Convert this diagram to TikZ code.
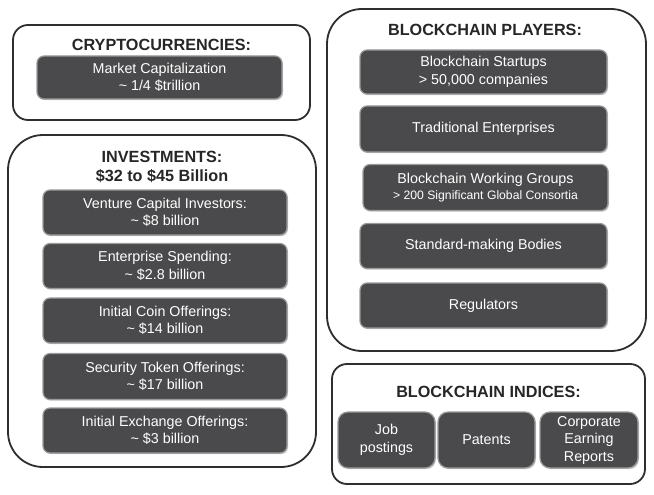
\documentclass[tikz,border=0pt]{standalone}
\usepackage{fontspec}
\setmainfont{Liberation Sans}
\usetikzlibrary{shadows}
\definecolor{boxfill}{HTML}{4A4A4C}
\definecolor{boxedge}{HTML}{9A9A9A}
\definecolor{frameedge}{HTML}{2E2E2E}
\definecolor{titletext}{HTML}{262626}
\tikzset{
  frame/.style={draw=frameedge, line width=1.8pt, fill=white, rounded corners=#1},
  frame/.default=15pt,
  inbox/.style={draw=boxedge, line width=1.2pt, fill=boxfill, rounded corners=7pt,
    text=white, align=center, inner sep=1pt, outer sep=0pt,
    font=\fontsize{14.3}{17.5}\selectfont,
    drop shadow={shadow xshift=1pt, shadow yshift=-1.2pt, fill=black!35, opacity=0.6}},
  tile/.style={inbox, rounded corners=10pt, minimum height=56pt},
  title/.style={text=titletext, align=center, font=\bfseries\fontsize{16.2}{19.5}\selectfont}
}
\begin{document}
\begin{tikzpicture}[x=1pt, y=-1pt]
\useasboundingbox (0,0) rectangle (654,495);

% Cryptocurrencies panel
\draw[frame] (13,25) rectangle (310,120);
\node[title] (tcrypto) at (161.5,45) {CRYPTOCURRENCIES:};
\node[inbox, minimum width=245pt, minimum height=43pt] (mcap) at (159.5,77.5)
  {Market Capitalization\\ \textasciitilde{} 1/4 \$trillion};

% Investments panel
\draw[frame=35pt] (8,135) rectangle (316,467);
\node[title] (tinvest) at (162,167) {INVESTMENTS:\\ \$32 to \$45 Billion};
\node[inbox, minimum width=244pt, minimum height=45pt] (vc) at (165,212.5)
  {Venture Capital Investors:\\ \textasciitilde{} \$8 billion};
\node[inbox, minimum width=244pt, minimum height=45pt] (ent) at (165,266)
  {Enterprise Spending:\\ \textasciitilde{} \$2.8 billion};
\node[inbox, minimum width=244pt, minimum height=45pt] (ico) at (165,320.5)
  {Initial Coin Offerings:\\ \textasciitilde{} \$14 billion};
\node[inbox, minimum width=244pt, minimum height=46pt] (sto) at (165,376.5)
  {Security Token Offerings:\\ \textasciitilde{} \$17 billion};
\node[inbox, minimum width=244pt, minimum height=45pt] (ieo) at (165,430.5)
  {Initial Exchange Offerings:\\ \textasciitilde{} \$3 billion};

% Blockchain players panel
\draw[frame=35pt] (327,9) rectangle (646,351);
\node[title] (tplayers) at (485,30) {BLOCKCHAIN PLAYERS:};
\node[inbox, minimum width=247pt, minimum height=44pt] (start) at (483.5,72)
  {Blockchain Startups\\ > 50,000 companies};
\node[inbox, minimum width=247pt, minimum height=46pt] (trad) at (483.5,129)
  {Traditional Enterprises};
\node[inbox, minimum width=245pt, minimum height=46pt] (wg) at (485.5,187.5)
  {Blockchain Working Groups\\[-2pt] {\fontsize{12.2}{14}\selectfont > 200 Significant Global Consortia}};
\node[inbox, minimum width=247pt, minimum height=45pt] (std) at (483.5,246)
  {Standard-making Bodies};
\node[inbox, minimum width=247pt, minimum height=45pt] (reg) at (483.5,305.5)
  {Regulators};

% Blockchain indices panel
\draw[frame] (332,364) rectangle (645,484);
\node[title] (tindices) at (488.5,392) {BLOCKCHAIN INDICES:};
\node[tile, minimum width=97pt] (job) at (386.5,440) {Job\\ postings};
\node[tile, minimum width=97pt] (pat) at (486.5,440) {Patents};
\node[tile, minimum width=98pt] (corp) at (589,440) {Corporate\\ Earning\\ Reports};
\end{tikzpicture}
\end{document}
